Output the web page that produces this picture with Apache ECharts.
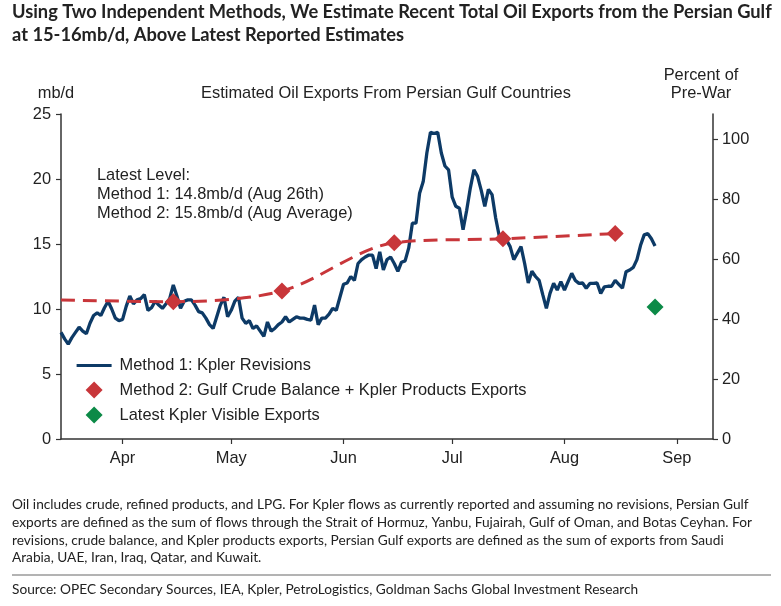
<!DOCTYPE html>
<html>
<head>
<meta charset="utf-8">
<script src="https://cdn.jsdelivr.net/npm/echarts@6/dist/echarts.min.js"></script>
<style>
html,body{margin:0;padding:0;background:#fff;}
#chart{width:781px;height:606px;}
</style>
</head>
<body>
<div id="chart"></div>
<script>
// ---------- DATA ----------
const monthLabels = ['Apr', 'May', 'Jun', 'Jul', 'Aug', 'Sep'];
const monthTicks = ['2025-04-01', '2025-05-01', '2025-06-01', '2025-07-01', '2025-08-01', '2025-09-01'];
const leftTicks = [0, 5, 10, 15, 20, 25];
const rightTicks = [0, 20, 40, 60, 80, 100];

// Method 1: Kpler Revisions, daily from 2025-03-15 to 2025-08-26 (mb/d)
const method1Start = [2025, 2, 15];
const method1Values = [
  // Mar 15-31
  8.2, 7.7, 7.3, 7.8, 8.2, 8.6, 8.3, 8.1, 8.9, 9.5, 9.7, 9.5, 10.1, 10.6, 10.0, 9.3, 9.1,
  // Apr
  9.2, 10.2, 11.0, 10.4, 10.7, 10.8, 11.1, 9.9, 10.1, 10.6, 10.3, 10.05, 10.4, 10.8, 11.85,
  11.0, 10.05, 10.6, 10.7, 10.7, 10.3, 9.8, 9.7, 9.3, 8.8, 8.5, 9.4, 10.3, 10.9, 9.4,
  // May
  9.9, 10.6, 10.9, 9.3, 8.9, 9.1, 8.5, 8.7, 8.3, 7.9, 9.0, 8.3, 8.5, 8.8, 9.0, 9.4,
  9.0, 9.2, 9.4, 9.3, 9.3, 9.2, 9.15, 10.3, 8.8, 9.3, 9.3, 9.6, 10.05, 9.9, 10.9,
  // Jun
  11.9, 12.0, 12.5, 12.2, 13.5, 13.8, 14.0, 14.15, 14.15, 13.1, 14.4, 13.0, 13.8, 14.0, 13.5,
  12.9, 13.6, 13.7, 14.7, 16.6, 16.6, 18.9, 19.8, 22.0, 23.6, 23.5, 23.6, 22.0, 21.0, 20.7,
  // Jul
  18.6, 17.9, 17.75, 16.1, 17.6, 19.3, 20.7, 20.2, 19.15, 17.9, 19.2, 18.8, 17.0, 15.6, 15.5, 15.3,
  14.8, 13.8, 14.3, 14.8, 13.5, 12.0, 12.9, 12.5, 12.2, 11.1, 10.05, 11.2, 11.97, 11.46, 12.1,
  // Aug 1-26
  11.46, 12.1, 12.74, 12.2, 11.97, 12.0, 11.6, 11.97, 11.97, 12.0, 11.2, 11.7, 11.75,
  11.75, 12.2, 11.9, 11.6, 12.87, 13.0, 13.2, 13.8, 14.9, 15.7, 15.8, 15.4, 14.85
];

// Method 2: Gulf Crude Balance + Kpler Products Exports (monthly averages, mb/d)
const method2Dates = ['2025-03-15', '2025-04-15', '2025-05-15', '2025-06-15', '2025-07-15', '2025-08-15'];
const method2Values = [10.7, 10.56, 11.38, 15.1, 15.4, 15.8];
const method2MarkerFrom = 1; // diamonds from April onward

// Latest Kpler Visible Exports
const kplerDates = ['2025-08-26'];
const kplerValues = [10.15];

const xMin = '2025-03-15';
const xMax = '2025-09-11';
const rightMax = 108.4; // 25 mb/d in percent of pre-war

// ---------- BUILD ----------
const toTs = s => { const p = s.split('-').map(Number); return new Date(p[0], p[1] - 1, p[2]).getTime(); };
const tickTimes = monthTicks.map(toTs);
const m1Data = method1Values.map((v, i) =>
  [new Date(method1Start[0], method1Start[1], method1Start[2] + i).getTime(), v]);
const m2Line = method2Dates.map((d, i) => [toTs(d), method2Values[i]]);
const m2Markers = m2Line.slice(method2MarkerFrom);
const kplerData = kplerDates.map((d, i) => [toTs(d), kplerValues[i]]);

const FONT = "'Liberation Sans', Arial, sans-serif";
const FS = 16.4;
const TXT = '#222';
const BLUE = '#0d3a66';
const RED = '#c8363a';
const GREEN = '#0c8a47';
const DIAMOND = 'path://M7,0 L14,7 L7,14 L0,7 Z';

const chart = echarts.init(document.getElementById('chart'), null, { renderer: 'canvas' });

const footnote =
  'Oil includes crude, refined products, and LPG. For Kpler flows as currently reported and assuming no revisions, Persian Gulf\n' +
  'exports are defined as the sum of flows through the Strait of Hormuz, Yanbu, Fujairah, Gulf of Oman, and Botas Ceyhan. For\n' +
  'revisions, crude balance, and Kpler products exports, Persian Gulf exports are defined as the sum of exports from Saudi\n' +
  'Arabia, UAE, Iran, Iraq, Qatar, and Kuwait.';

const option = {
  backgroundColor: '#fff',
  animation: false,
  textStyle: { fontFamily: FONT },
  grid: { left: 61, right: 68, top: 114, bottom: 167, containLabel: false },
  legend: {
    orient: 'vertical',
    left: 70,
    top: 352.5,
    itemWidth: 35,
    itemHeight: 17,
    itemGap: 8,
    symbolKeepAspect: true,
    textStyle: { fontFamily: FONT, fontSize: FS, color: TXT, padding: [0, 0, 0, 3] },
    data: [
      { name: 'Method 1: Kpler Revisions', itemStyle: { opacity: 0 }, lineStyle: { color: BLUE, width: 3.2 } },
      { name: 'Method 2: Gulf Crude Balance + Kpler Products Exports', icon: DIAMOND },
      { name: 'Latest Kpler Visible Exports', icon: DIAMOND }
    ]
  },
  xAxis: {
    type: 'value',
    min: toTs(xMin),
    max: toTs(xMax),
    splitLine: { show: false },
    axisLine: { lineStyle: { color: '#333', width: 1.5 } },
    axisTick: { show: true, length: 5, lineStyle: { color: '#333', width: 1.2 }, customValues: tickTimes },
    axisLabel: {
      customValues: tickTimes,
      color: TXT, fontSize: FS, fontFamily: FONT, margin: 11,
      formatter: function (v) {
        for (let i = 0; i < tickTimes.length; i++) {
          if (Math.abs(tickTimes[i] - v) < 43200000) return monthLabels[i];
        }
        return '';
      }
    }
  },
  yAxis: [
    {
      type: 'value', min: 0, max: 25, interval: 5,
      splitLine: { show: false },
      axisLine: { show: true, lineStyle: { color: '#333', width: 1.5 } },
      axisTick: { show: true, length: 5, lineStyle: { color: '#333', width: 1.2 } },
      axisLabel: { color: TXT, fontSize: FS, fontFamily: FONT, margin: 10,
        formatter: v => (leftTicks.indexOf(v) >= 0 ? String(v) : '') }
    },
    {
      type: 'value', min: 0, max: rightMax, interval: 20, position: 'right',
      splitLine: { show: false },
      axisLine: { show: true, lineStyle: { color: '#333', width: 1.5 } },
      axisTick: { show: true, length: 5, lineStyle: { color: '#333', width: 1.2 }, customValues: rightTicks },
      axisLabel: { color: TXT, fontSize: FS, fontFamily: FONT, margin: 9, customValues: rightTicks }
    }
  ],
  series: [
    {
      name: 'Method 1: Kpler Revisions',
      type: 'line',
      data: m1Data,
      symbol: 'none',
      lineStyle: { color: BLUE, width: 3.3 },
      itemStyle: { color: BLUE },
      z: 2
    },
    {
      name: 'Method 2 line',
      type: 'line',
      data: m2Line,
      smooth: 0.3,
      symbol: 'none',
      lineStyle: { color: RED, width: 3, type: [14, 8] },
      itemStyle: { color: RED },
      z: 3
    },
    {
      name: 'Method 2: Gulf Crude Balance + Kpler Products Exports',
      type: 'scatter',
      data: m2Markers,
      symbol: 'diamond',
      symbolSize: 17,
      itemStyle: { color: RED, opacity: 1 },
      z: 4
    },
    {
      name: 'Latest Kpler Visible Exports',
      type: 'scatter',
      data: kplerData,
      symbol: 'diamond',
      symbolSize: 17,
      itemStyle: { color: GREEN, opacity: 1 },
      z: 4
    }
  ],
  graphic: [
    { type: 'text', left: 12, top: 1,
      style: { text: 'Using Two Independent Methods, We Estimate Recent Total Oil Exports from the Persian Gulf\nat 15-16mb/d, Above Latest Reported Estimates',
        font: "700 18.3px Lato, 'Open Sans', sans-serif", fill: TXT, lineHeight: 22.5 } },
    { type: 'text', x: 386, y: 93,
      style: { text: 'Estimated Oil Exports From Persian Gulf Countries', font: FS + 'px ' + FONT, fill: TXT,
        textAlign: 'center', textVerticalAlign: 'middle' } },
    { type: 'text', x: 56, y: 93,
      style: { text: 'mb/d', font: FS + 'px ' + FONT, fill: TXT, textAlign: 'center', textVerticalAlign: 'middle' } },
    { type: 'text', x: 701, y: 67,
      style: { text: 'Percent of\nPre-War', font: FS + 'px ' + FONT, fill: TXT, textAlign: 'center', lineHeight: 17.5 } },
    { type: 'text', left: 97, top: 166,
      style: { text: 'Latest Level:\nMethod 1: 14.8mb/d (Aug 26th)\nMethod 2: 15.8mb/d (Aug Average)',
        font: FS + 'px ' + FONT, fill: TXT, lineHeight: 19 } },
    { type: 'text', left: 12, top: 496,
      style: { text: footnote, font: "13.7px Lato, 'Open Sans', sans-serif", fill: TXT, lineHeight: 17.7 } },
    { type: 'line', shape: { x1: 12, y1: 575, x2: 771, y2: 575 }, style: { stroke: '#9a9a9a', lineWidth: 1.5 } },
    { type: 'text', left: 12, top: 581,
      style: { text: 'Source: OPEC Secondary Sources, IEA, Kpler, PetroLogistics, Goldman Sachs Global Investment Research',
        font: "13.7px Lato, 'Open Sans', sans-serif", fill: TXT, lineHeight: 18 } }
  ]
};
chart.setOption(option);
</script>
</body>
</html>
